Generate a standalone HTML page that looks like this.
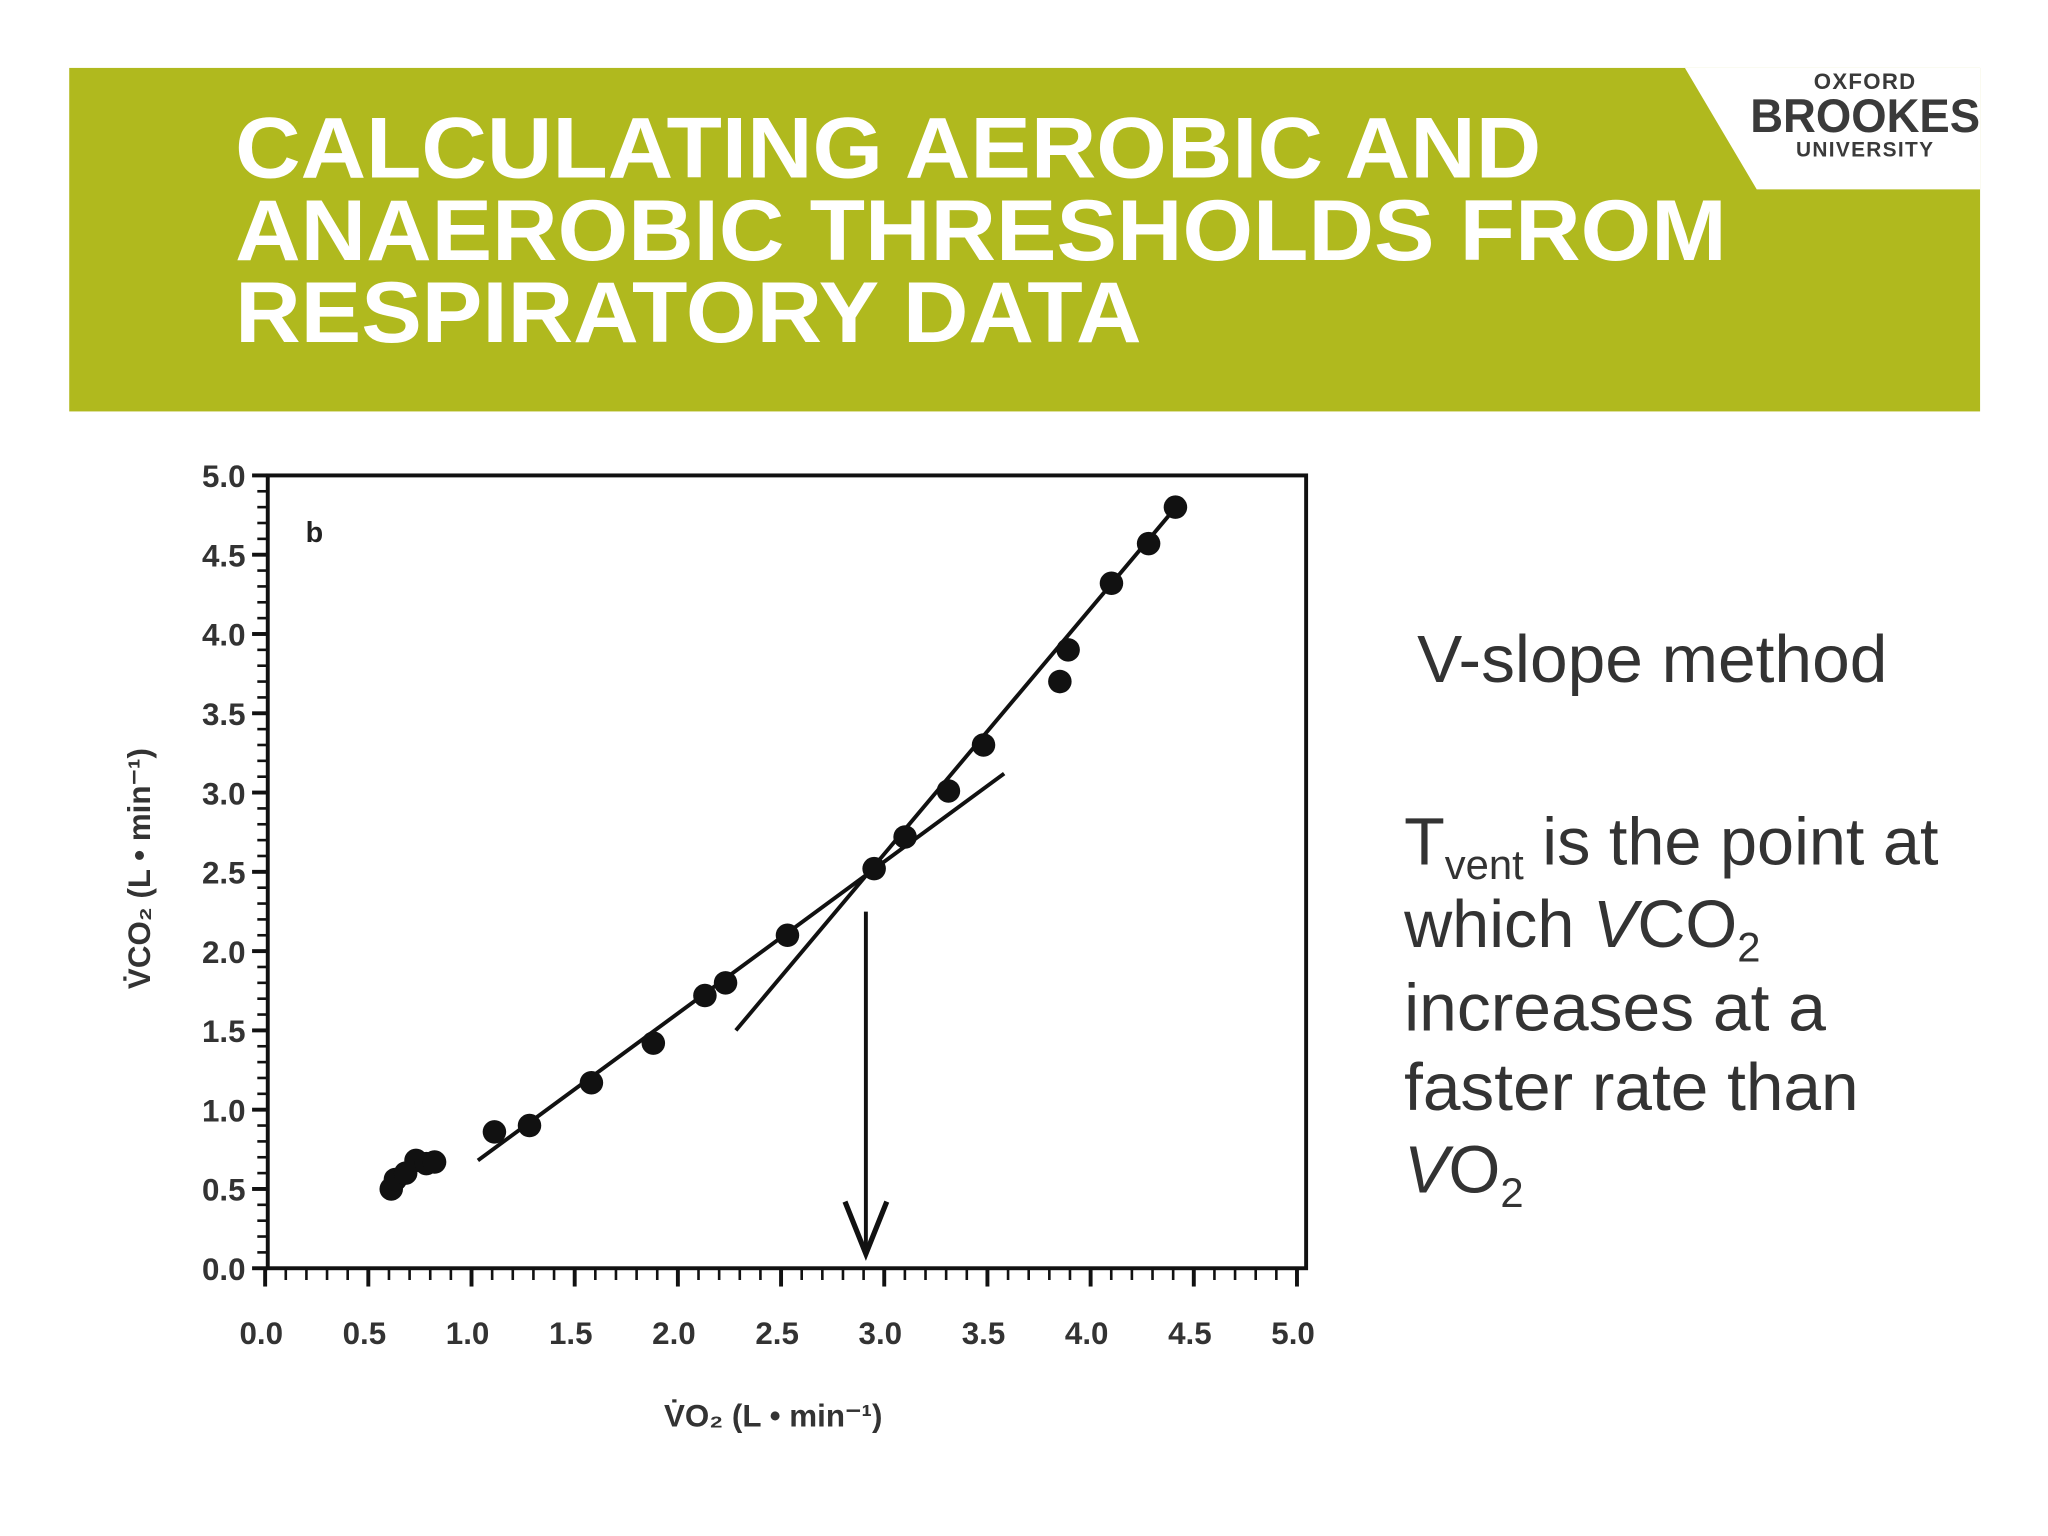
<!DOCTYPE html>
<html><head><meta charset="utf-8"><style>
html,body{margin:0;padding:0;background:#fff;}
svg{display:block;}
text{font-family:"Liberation Sans",sans-serif;}
</style></head><body>
<svg id="slide" width="2048" height="1536" viewBox="0 0 1568 1176" xmlns="http://www.w3.org/2000/svg">
<rect x="53" y="52" width="1463" height="263" fill="#b0b91e"/>
<polygon points="1290,52 1516,52 1516,145 1345,145" fill="#fff"/>
<g fill="#3a3a3a" text-anchor="middle">
<text x="1428" y="68" font-size="17" font-weight="bold" letter-spacing="1">OXFORD</text>
<text x="1428" y="101" font-size="36" font-weight="bold" font-family="Liberation Serif,serif" textLength="176" lengthAdjust="spacingAndGlyphs">BROOKES</text>
<text x="1428" y="120" font-size="16" font-weight="bold" letter-spacing="1">UNIVERSITY</text>
</g>
<g fill="#fff" font-weight="bold" font-size="66">
<text x="180" y="136" textLength="1000" lengthAdjust="spacingAndGlyphs">CALCULATING AEROBIC AND</text>
<text x="180" y="199" textLength="1142" lengthAdjust="spacingAndGlyphs">ANAEROBIC THRESHOLDS FROM</text>
<text x="180" y="262" textLength="694" lengthAdjust="spacingAndGlyphs">RESPIRATORY DATA</text>
</g>
<g id="chart"></g>
<g fill="#333" font-size="51">
<text x="1085" y="522" textLength="360" lengthAdjust="spacingAndGlyphs">V-slope method</text>
<text x="1075" y="662">T<tspan font-size="32" dy="11">vent</tspan><tspan dy="-11"> is the point at</tspan></text>
<text x="1075" y="725">which <tspan font-style="italic">V</tspan>CO<tspan font-size="32" dy="11">2</tspan></text>
<text x="1075" y="789" textLength="323" lengthAdjust="spacingAndGlyphs">increases at a</text>
<text x="1075" y="850" textLength="348" lengthAdjust="spacingAndGlyphs">faster rate than</text>
<text x="1075" y="913"><tspan font-style="italic">V</tspan>O<tspan font-size="32" dy="11">2</tspan></text>
</g>
</svg>
<script>
const vo2 = [0.63,0.65,0.70,0.75,0.80,0.84,1.13,1.30,1.60,1.90,2.15,2.25,2.55,2.97,3.12,3.33,3.50,3.87,3.91,4.12,4.30,4.43];
const vco2 = [0.50,0.56,0.60,0.68,0.66,0.67,0.86,0.90,1.17,1.42,1.72,1.80,2.10,2.52,2.72,3.01,3.30,3.70,3.90,4.32,4.57,4.80];
const xTicks = ["0.0","0.5","1.0","1.5","2.0","2.5","3.0","3.5","4.0","4.5","5.0"];
const yTicks = ["0.0","0.5","1.0","1.5","2.0","2.5","3.0","3.5","4.0","4.5","5.0"];
const fitLow = [[1.05,0.68],[3.60,3.12]];
const fitHigh = [[2.30,1.50],[4.40,4.75]];
const thresholdVO2 = 2.93;

const NS="http://www.w3.org/2000/svg";
const g=document.getElementById('chart');
const X=v=>200+v*158, Y=v=>971-v*121.4;
function mk(tag,attrs,parent){const e=document.createElementNS(NS,tag);for(const k in attrs)e.setAttribute(k,attrs[k]);(parent||g).appendChild(e);return e;}
let f=mk('rect',{x:X(0)+5,y:Y(5),width:X(5)-X(0)+5,height:Y(0)-Y(5),fill:'none',stroke:'#111','stroke-width':3});


for(let i=0;i<=50;i++){
  const v=i/10, major=i%5===0;
  let t=mk('line',{x1:X(v)+3,x2:X(v)+3,y1:Y(0),y2:Y(0)+(major?14:9),stroke:'#111','stroke-width':major?3:2});
  
  
  let u=mk('line',{x1:X(0)+5,x2:X(0)+5-(major?12:8),y1:Y(v),y2:Y(v),stroke:'#111','stroke-width':major?3:2});
  
  
}
xTicks.forEach(s=>{
  let t=mk('text',{x:X(+s),y:Y(0)+58,'text-anchor':'middle','font-size':24,'font-weight':'bold',fill:'#333'});
  t.textContent=s;
  
  
});
yTicks.forEach(s=>{
  let t=mk('text',{x:188,y:Y(+s)+9,'text-anchor':'end','font-size':24,'font-weight':'bold',fill:'#333'});
  t.textContent=s;
  
  
});
let xt=mk('text',{x:592,y:1092,'text-anchor':'middle','font-size':24,'font-weight':'bold',fill:'#333'});
xt.textContent='V̇O₂ (L • min⁻¹)';


let yt=mk('text',{x:115,y:665,'text-anchor':'middle','font-size':24,'font-weight':'bold',fill:'#333',transform:'rotate(-90 115 665)'});
yt.textContent='V̇CO₂ (L • min⁻¹)';


let pb=mk('text',{x:234,y:415,'font-size':22,'font-weight':'bold',fill:'#222'});
pb.textContent='b';


[fitLow,fitHigh].forEach((l,i)=>{
  let ln=mk('line',{x1:X(l[0][0]),y1:Y(l[0][1]),x2:X(l[1][0]),y2:Y(l[1][1]),stroke:'#111','stroke-width':3});
  
  
});
vo2.forEach((v,i)=>{
  let c=mk('circle',{cx:X(v),cy:Y(vco2[i]),r:9,fill:'#111'});
  
  
});
let ax=X(thresholdVO2);
let ar=mk('line',{x1:ax,y1:698,x2:ax,y2:955,stroke:'#111','stroke-width':3});


let ah=mk('polyline',{points:`${ax-16},920 ${ax},960 ${ax+16},920`,fill:'none',stroke:'#111','stroke-width':4});


</script>
</body></html>
